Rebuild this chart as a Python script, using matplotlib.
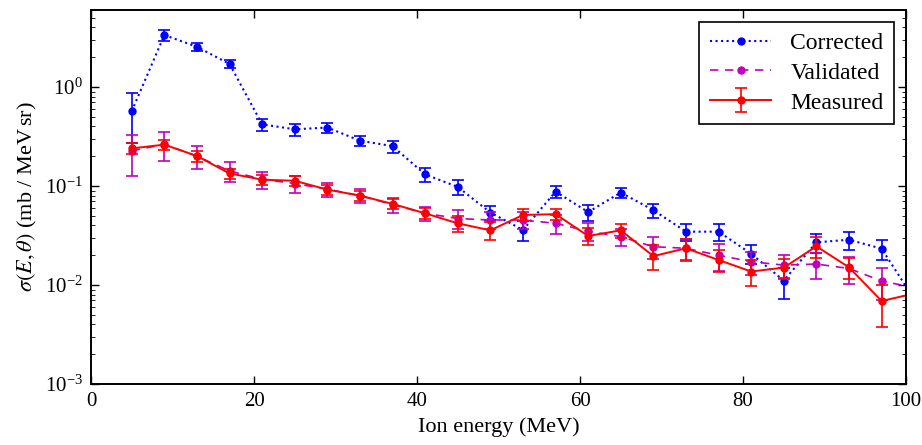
import numpy as np
import matplotlib
matplotlib.use("Agg")
import matplotlib.pyplot as plt

plt.rcParams['font.family'] = ['Liberation Serif', 'DejaVu Serif']
plt.rcParams['mathtext.fontset'] = 'stix'
plt.rcParams['xtick.direction'] = 'in'
plt.rcParams['ytick.direction'] = 'in'
plt.rcParams['xtick.top'] = True
plt.rcParams['ytick.right'] = True

# ion energy bins (MeV)
energy = [5, 9, 13, 17, 21, 25, 29, 33, 37, 41, 45, 49, 53, 57, 61, 65, 69,
          73, 77, 81, 85, 89, 93, 97, 101]

corrected = [0.57, 3.35, 2.55, 1.71, 0.42, 0.374, 0.39, 0.287, 0.253, 0.131,
             0.098, 0.054, 0.036, 0.0877, 0.0546, 0.086, 0.057, 0.0346,
             0.0346, 0.0207, 0.0111, 0.027, 0.0287, 0.0233, 0.0072]
corrected_err = [0.30, 0.45, 0.25, 0.15, 0.06, 0.05, 0.045, 0.035, 0.035,
                 0.02, 0.016, 0.009, 0.008, 0.012, 0.01, 0.01, 0.009, 0.007,
                 0.007, 0.0045, 0.0038, 0.006, 0.006, 0.0053, 0.002]

validated = [0.227, 0.264, 0.2, 0.142, 0.117, 0.106, 0.093, 0.08, 0.065,
             0.053, 0.047, 0.0454, 0.0454, 0.042, 0.035, 0.0308, 0.0244,
             0.0235, 0.02, 0.0172, 0.0159, 0.0163, 0.0147, 0.011, 0.0094]
validated_err = [0.1, 0.085, 0.052, 0.033, 0.023, 0.02, 0.015, 0.013, 0.011,
                 0.009, 0.01, 0.009, 0.009, 0.009, 0.007, 0.006, 0.006,
                 0.0055, 0.006, 0.0045, 0.004, 0.0048, 0.0045, 0.004, 0.003]

measured = [0.24, 0.262, 0.201, 0.134, 0.116, 0.113, 0.092, 0.08, 0.066,
            0.053, 0.042, 0.0357, 0.051, 0.052, 0.0313, 0.0357, 0.0196,
            0.0235, 0.0179, 0.0137, 0.015, 0.0246, 0.0151, 0.0069, 0.0082]
measured_err = [0.03, 0.03, 0.025, 0.016, 0.014, 0.014, 0.011, 0.01, 0.008,
                0.007, 0.008, 0.0075, 0.007, 0.007, 0.006, 0.006, 0.0055,
                0.006, 0.0045, 0.004, 0.0035, 0.006, 0.0035, 0.0031, 0.003]

fig = plt.figure(figsize=(9.22, 4.45), dpi=100)
ax = fig.add_axes([0.0987, 0.137, 0.884, 0.8405])

ax.errorbar(energy, corrected, yerr=corrected_err, fmt='none', ecolor='b',
            elinewidth=1.2, capsize=4, capthick=1.2)
ax.plot(energy, corrected, 'b:', marker='o', markersize=5, lw=1.5,
        label='Corrected')

ax.errorbar(energy, validated, yerr=validated_err, fmt='none', ecolor='m',
            elinewidth=1.2, capsize=4, capthick=1.2)
ax.plot(energy, validated, 'm--', marker='o', markersize=5, lw=1.2,
        dashes=(5, 4), label='Validated')

ax.errorbar(energy, measured, yerr=measured_err, fmt='r-', marker='o',
            markersize=5, lw=1.4, elinewidth=1.2, capsize=4, capthick=1.2,
            label='Measured')

ax.set_yscale('log')
ax.set_xlim(0, 100)
ax.set_ylim(1e-3, 6)
ax.set_xticks([0, 20, 40, 60, 80, 100])
ax.tick_params(labelsize=15, width=1, length=6, pad=6)
ax.tick_params(which='minor', length=3)
for s in ax.spines.values():
    s.set_linewidth(1.4)

ax.set_xlabel('Ion energy (MeV)', fontsize=16, labelpad=4)
ax.set_ylabel(r'$\sigma(E,\theta)$ (mb / MeV$\,$sr)', fontsize=16, labelpad=4)

leg = ax.legend(loc='upper right', fontsize=17, fancybox=False,
                edgecolor='k', framealpha=1, borderpad=0.45, handlelength=2.6,
                labelspacing=0.35, borderaxespad=0.5)
leg.get_frame().set_linewidth(1.2)

fig.savefig('out.png', dpi=100)
